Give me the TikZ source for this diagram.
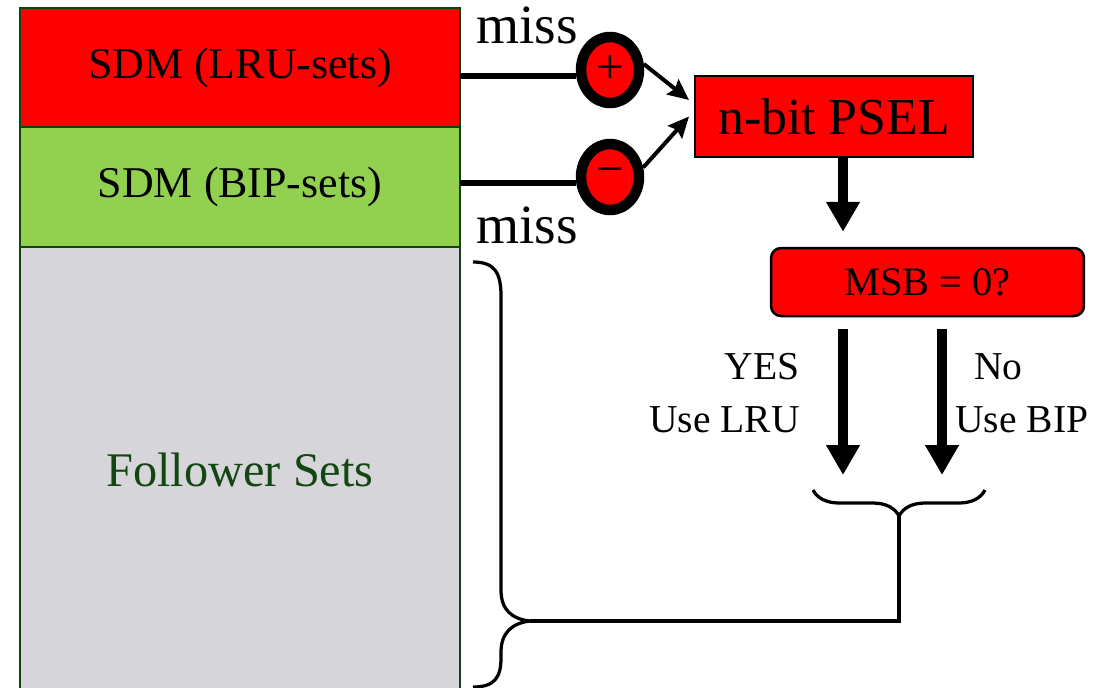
\documentclass[tikz,border=0pt]{standalone}
\usepackage{fontspec}
\setmainfont{Liberation Serif}
\usetikzlibrary{positioning,shapes.geometric,arrows.meta,decorations.pathreplacing}

\definecolor{sdmred}{RGB}{255,0,0}
\definecolor{sdmgreen}{RGB}{146,208,80}
\definecolor{followgray}{RGB}{214,214,218}
\definecolor{borderdark}{RGB}{20,65,20}
\definecolor{followtext}{RGB}{20,70,20}

\begin{document}
\begin{tikzpicture}[x=0.02cm,y=-0.02cm]
		\tikzstyle{setblock} = [rectangle, draw=borderdark, line width=0.04cm, minimum width=8.8cm, inner sep=0pt, outer sep=0pt, text centered, font=\fontsize{25}{30}\selectfont]
		\tikzstyle{counter} = [ellipse, draw=black, line width=0.21cm, fill=sdmred, minimum width=1.16cm, minimum height=1.32cm, inner sep=0pt, font=\fontsize{28}{32}\selectfont]
		\tikzstyle{selector} = [rectangle, draw=black, line width=0.04cm, fill=sdmred, minimum width=5.56cm, minimum height=1.62cm, font=\fontsize{29.5}{34}\selectfont]
		\tikzstyle{decision} = [rectangle, rounded corners=0.2cm, draw=black, line width=0.05cm, fill=sdmred, minimum width=6.26cm, minimum height=1.36cm, font=\fontsize{23}{28}\selectfont]
		\tikzstyle{misstext} = [inner sep=0pt, font=\fontsize{31.5}{36}\selectfont]
		\tikzstyle{sidetext} = [inner sep=0pt, font=\fontsize{22.5}{27}\selectfont]
		\tikzstyle{feed} = [line width=0.12cm]
		\tikzstyle{count} = [line width=0.08cm, -{Stealth[length=0.42cm,width=0.38cm,inset=0.06cm]}]
		\tikzstyle{bigarrow} = [line width=0.2cm, -{Triangle[length=0.6cm,width=0.64cm]}]
		\tikzstyle{link} = [line width=0.065cm]
		
		\path[use as bounding box, clip] (0,0) rectangle (1094,687);
		
		% cache sets
		\node (lruSets) [setblock, fill=sdmred, minimum height=2.38cm] at (240,67.5) {SDM (LRU-sets)};
		\node (bipSets) [setblock, fill=sdmgreen, minimum height=2.4cm, below=0pt of lruSets] {SDM (BIP-sets)};
		\node (followerSets) [setblock, fill=followgray, text=followtext, minimum height=8.92cm, font=\fontsize{27.5}{32}\selectfont, below=0pt of bipSets] {Follower Sets};
		
		% counter
		\node (plusCounter) [counter] at (610,70) {+};
		\node (minusCounter) [counter] at (610,177) {−};
		\node (psel) [selector] at (834,116.5) {n-bit PSEL};
		\node (msb) [decision] at (927.5,282) {MSB = 0?};
		
		\draw [feed] (lruSets.east |- plusCounter.190) -- (plusCounter.190);
		\draw [feed] (bipSets.east |- minusCounter.190) -- (minusCounter.190);
		\node (missTop) [misstext, anchor=base] at (527,43) {miss};
		\node (missBottom) [misstext, anchor=base] at (527,243) {miss};
		
		\draw [count] (plusCounter.10) -- ([xshift=-0.1cm,yshift=0.33cm]psel.west);
		\draw [count] (minusCounter.16) -- ([xshift=-0.1cm]psel.west);
		
		% decision
		\coordinate (lruEnd) at (843,475);
		\coordinate (bipEnd) at (942,475);
		\draw [bigarrow] (psel.south -| lruEnd) -- ([yshift=0.3cm]msb.north -| lruEnd);
		\draw [bigarrow] ([yshift=-0.24cm]msb.south -| lruEnd) -- (lruEnd);
		\draw [bigarrow] ([yshift=-0.24cm]msb.south -| bipEnd) -- (bipEnd);
		
		\node (yesText) [sidetext, anchor=base east] at (800,379) {YES};
		\node (useLru) [sidetext, anchor=base east] at (800,432) {Use LRU};
		\node (noText) [sidetext, anchor=base west] at (974,379) {No};
		\node (useBip) [sidetext, anchor=base west] at (955,432) {Use BIP};
		
		% braces
		\coordinate (choiceLeft) at (813,490);
		\coordinate (choiceRight) at (985,490);
		\coordinate (choiceCusp) at (899,516);
		\coordinate (followCusp) at (530,621);
		\draw [link, decorate, decoration={brace, amplitude=0.52cm}] (choiceRight) -- (choiceLeft);
		\draw [link] (followCusp) -| (choiceCusp);
		\draw [link] (473,262) .. controls (494,262) and (501,272) .. (501,296) -- (501,590)
			.. controls (501,610) and (512,619) .. (followCusp)
			.. controls (512,623) and (501,633) .. (501,652) -- (501,658)
			.. controls (501,678) and (494,687) .. (473,687);
	
	\end{tikzpicture}
\end{document}
